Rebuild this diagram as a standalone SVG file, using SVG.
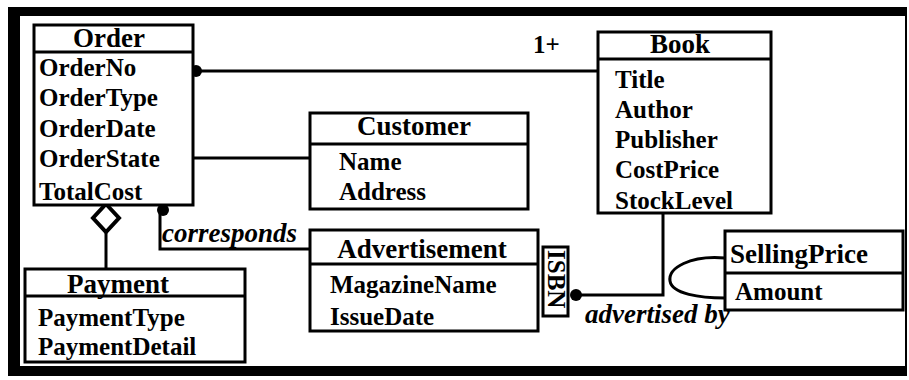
<svg xmlns="http://www.w3.org/2000/svg" width="909" height="380" viewBox="0 0 909 380">
<style>
.box{fill:#fff;stroke:#000;stroke-width:3}
.hl{stroke:#000;stroke-width:3}
.t{font-family:"Liberation Serif","Times New Roman",serif;font-weight:bold;font-size:27px;fill:#000}
.a{font-family:"Liberation Serif","Times New Roman",serif;font-weight:bold;font-size:25px;fill:#000}
.i{font-family:"Liberation Serif","Times New Roman",serif;font-weight:bold;font-style:italic;font-size:27px;fill:#000}
.c{fill:none;stroke:#000;stroke-width:3}
</style>
<rect x="0" y="0" width="909" height="380" fill="#fff"/>
<g id="frame">
<rect x="8" y="7" width="899" height="369" fill="#000"/>
<rect x="20" y="16" width="885" height="350" fill="#fff"/>
</g>
<g id="connectors">
<line class="c" x1="196" y1="71" x2="598" y2="71"/>
<circle cx="196" cy="71" r="6" fill="#000"/>
<line class="c" x1="193" y1="158" x2="310" y2="158"/>
<polyline class="c" points="160,210 160,249 310,249"/>
<circle cx="163" cy="210" r="6" fill="#000"/>
<line class="c" x1="106" y1="232" x2="106" y2="269"/>
<polygon points="106,204 119,218 106,232 93,218" fill="#fff" stroke="#000" stroke-width="4"/>
<polyline class="c" points="576,295 663,295 663,213"/>
<circle cx="576" cy="295" r="6" fill="#000"/>
<path class="c" d="M725,258 C690,255 668,268 670,281 C672,294 700,298 725,298"/>
<text class="a" x="533" y="53">1+</text>
<text class="i" x="162" y="242">corresponds</text>
<text class="i" x="585" y="323">advertised by</text>
</g>
<g id="order">
<rect class="box" x="34" y="25" width="159" height="180"/>
<line class="hl" x1="34" y1="52" x2="193" y2="52"/>
<text class="t" x="109" y="47" text-anchor="middle">Order</text>
<text class="a" x="39" y="76">OrderNo</text>
<text class="a" x="39" y="106">OrderType</text>
<text class="a" x="39" y="137">OrderDate</text>
<text class="a" x="39" y="167">OrderState</text>
<text class="a" x="39" y="200">TotalCost</text>
</g>
<g id="book">
<rect class="box" x="598" y="32" width="173" height="181"/>
<line class="hl" x1="598" y1="59" x2="771" y2="59"/>
<text class="t" x="680" y="53" text-anchor="middle">Book</text>
<text class="a" x="615" y="88">Title</text>
<text class="a" x="615" y="118">Author</text>
<text class="a" x="615" y="148">Publisher</text>
<text class="a" x="615" y="178">CostPrice</text>
<text class="a" x="615" y="209">StockLevel</text>
</g>
<g id="customer">
<rect class="box" x="310" y="113" width="218" height="96"/>
<line class="hl" x1="310" y1="144" x2="528" y2="144"/>
<text class="t" x="414" y="135" text-anchor="middle">Customer</text>
<text class="a" x="339" y="170">Name</text>
<text class="a" x="339" y="200">Address</text>
</g>
<g id="advertisement">
<rect class="box" x="310" y="230" width="228" height="101"/>
<line class="hl" x1="310" y1="264" x2="538" y2="264"/>
<text class="t" x="422" y="258" text-anchor="middle">Advertisement</text>
<text class="a" x="330" y="293">MagazineName</text>
<text class="a" x="330" y="325">IssueDate</text>
</g>
<g id="isbn">
<rect class="box" x="543" y="247" width="25" height="69"/>
<text class="a" font-size="26" transform="translate(548,250) rotate(90)">ISBN</text>
</g>
<g id="sellingprice">
<rect class="box" x="725" y="231" width="178" height="79"/>
<line class="hl" x1="725" y1="273" x2="903" y2="273"/>
<text class="t" x="730" y="263">SellingPrice</text>
<text class="a" x="735" y="300">Amount</text>
</g>
<g id="payment">
<rect class="box" x="25" y="269" width="220" height="93"/>
<line class="hl" x1="25" y1="296" x2="245" y2="296"/>
<text class="t" x="118" y="293" text-anchor="middle">Payment</text>
<text class="a" x="38" y="326">PaymentType</text>
<text class="a" x="38" y="355">PaymentDetail</text>
</g>
</svg>
